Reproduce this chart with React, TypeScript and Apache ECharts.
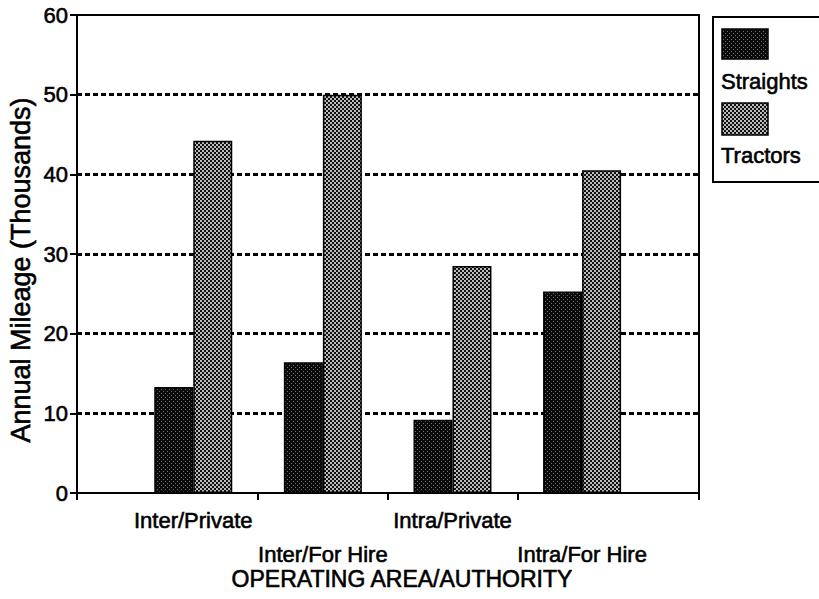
import React, { useEffect, useRef } from 'react';
import * as echarts from 'echarts';

const categories = ['Inter/Private', 'Inter/For Hire', 'Intra/Private', 'Intra/For Hire'];
const seriesNames = ['Straights', 'Tractors'];
const straights = [13.3, 16.4, 9.2, 25.3];
const tractors = [44.2, 50.0, 28.5, 40.5];
const yTicks = [0, 10, 20, 30, 40, 50, 60];
const yAxisTitle = 'Annual Mileage (Thousands)';
const xAxisTitle = 'OPERATING AREA/AUTHORITY';

const X_MIN = -0.897;
const X_MAX = 3.902;
const FONT = "'Liberation Sans', Arial, Helvetica, sans-serif";
const BOLDEN = { textBorderColor: '#000', textBorderWidth: 0.6 };

function makePattern(kind: 'straights' | 'tractors') {
  const c = document.createElement('canvas');
  c.width = 4;
  c.height = 4;
  const ctx = c.getContext('2d')!;
  if (kind === 'tractors') {
    ctx.fillStyle = '#111111';
    ctx.fillRect(0, 0, 4, 4);
    ctx.fillStyle = '#bcbcbc';
    ctx.fillRect(0, 0, 2, 2);
    ctx.fillRect(2, 2, 2, 2);
  } else {
    ctx.fillStyle = '#0b0b0b';
    ctx.fillRect(0, 0, 4, 4);
    ctx.fillStyle = '#6e6e6e';
    ctx.fillRect(1, 1, 1, 1);
    ctx.fillRect(3, 3, 1, 1);
  }
  return { image: c, repeat: 'repeat', imageWidth: 4, imageHeight: 4 } as any;
}

export default function App() {
  const ref = useRef<HTMLDivElement>(null);
  useEffect(() => {
    if (!ref.current) return;
    const chart = echarts.init(ref.current, undefined, { renderer: 'svg' });
    const patS = makePattern('straights');
    const patT = makePattern('tractors');
    const pats = [patS, patT];
    const values = [straights, tractors];

    const option: any = {
      animation: false,
      grid: {
        left: 77,
        right: 120,
        top: 15,
        bottom: 106,
        show: true,
        borderColor: '#000',
        borderWidth: 2,
        backgroundColor: 'transparent',
      },
      xAxis: {
        type: 'value',
        min: X_MIN,
        max: X_MAX,
        axisLine: { show: true, onZero: false, lineStyle: { color: '#000', width: 2 } },
        axisTick: {
          show: true,
          customValues: [X_MIN, 0.5, 1.5, 2.5, X_MAX],
          length: 7,
          lineStyle: { color: '#000', width: 2 },
        },
        axisLabel: {
          customValues: [0, 1, 2, 3],
          formatter: (v: number) => {
            const i = Math.round(v);
            const name = categories[i] ?? '';
            return i % 2 === 1 ? '\n' + name : name;
          },
          fontSize: 22,
          fontFamily: FONT,
          color: '#000',
          margin: 10,
          lineHeight: 34,
          ...BOLDEN,
        },
        splitLine: { show: false },
      },
      yAxis: {
        type: 'value',
        min: yTicks[0],
        max: yTicks[yTicks.length - 1],
        interval: yTicks[1] - yTicks[0],
        axisLine: { show: true, onZero: false, lineStyle: { color: '#000', width: 2 } },
        axisTick: { show: true, length: 7, lineStyle: { color: '#000', width: 2 } },
        axisLabel: { fontSize: 22, fontFamily: FONT, color: '#000', margin: 9, ...BOLDEN },
        splitLine: {
          show: true,
          showMinLine: false,
          showMaxLine: false,
          lineStyle: { color: '#000', width: 3, type: [5, 3] },
        },
      },
      series: seriesNames.map((name, si) => ({
        type: 'bar',
        name,
        data: categories.map((_, i) => [i, values[si][i]]),
        barWidth: 39,
        barGap: '0%',
        itemStyle: { color: pats[si], borderColor: '#000', borderWidth: 1.5 },
      })),
      graphic: [
        {
          type: 'text',
          x: 21,
          y: 270,
          rotation: Math.PI / 2,
          style: {
            text: yAxisTitle,
            fontSize: 27,
            fontFamily: FONT,
            fill: '#000',
            align: 'center',
            verticalAlign: 'middle',
            stroke: '#000',
            lineWidth: 0.6,
          },
        },
        {
          type: 'text',
          x: 402,
          y: 579,
          style: {
            text: xAxisTitle,
            fontSize: 23,
            fontFamily: FONT,
            fill: '#000',
            align: 'center',
            verticalAlign: 'middle',
            stroke: '#000',
            lineWidth: 0.6,
          },
        },
        {
          type: 'rect',
          shape: { x: 713, y: 17, width: 130, height: 165 },
          style: { fill: '#fff', stroke: '#000', lineWidth: 2 },
        },
        {
          type: 'rect',
          shape: { x: 722, y: 29, width: 46, height: 30 },
          style: { fill: patS, stroke: '#000', lineWidth: 1.5 },
        },
        {
          type: 'text',
          x: 721,
          y: 81,
          style: {
            text: seriesNames[0],
            fontSize: 22,
            fontFamily: FONT,
            fill: '#000',
            align: 'left',
            verticalAlign: 'middle',
            stroke: '#000',
            lineWidth: 0.6,
          },
        },
        {
          type: 'rect',
          shape: { x: 722, y: 103, width: 46, height: 32 },
          style: { fill: patT, stroke: '#000', lineWidth: 1.5 },
        },
        {
          type: 'text',
          x: 721,
          y: 155,
          style: {
            text: seriesNames[1],
            fontSize: 22,
            fontFamily: FONT,
            fill: '#000',
            align: 'left',
            verticalAlign: 'middle',
            stroke: '#000',
            lineWidth: 0.6,
          },
        },
      ],
    };
    chart.setOption(option);
    return () => chart.dispose();
  }, []);
  return (
    <div
      ref={ref}
      style={{ position: 'fixed', left: 0, top: 0, width: 819, height: 599, background: '#fff' }}
    />
  );
}
